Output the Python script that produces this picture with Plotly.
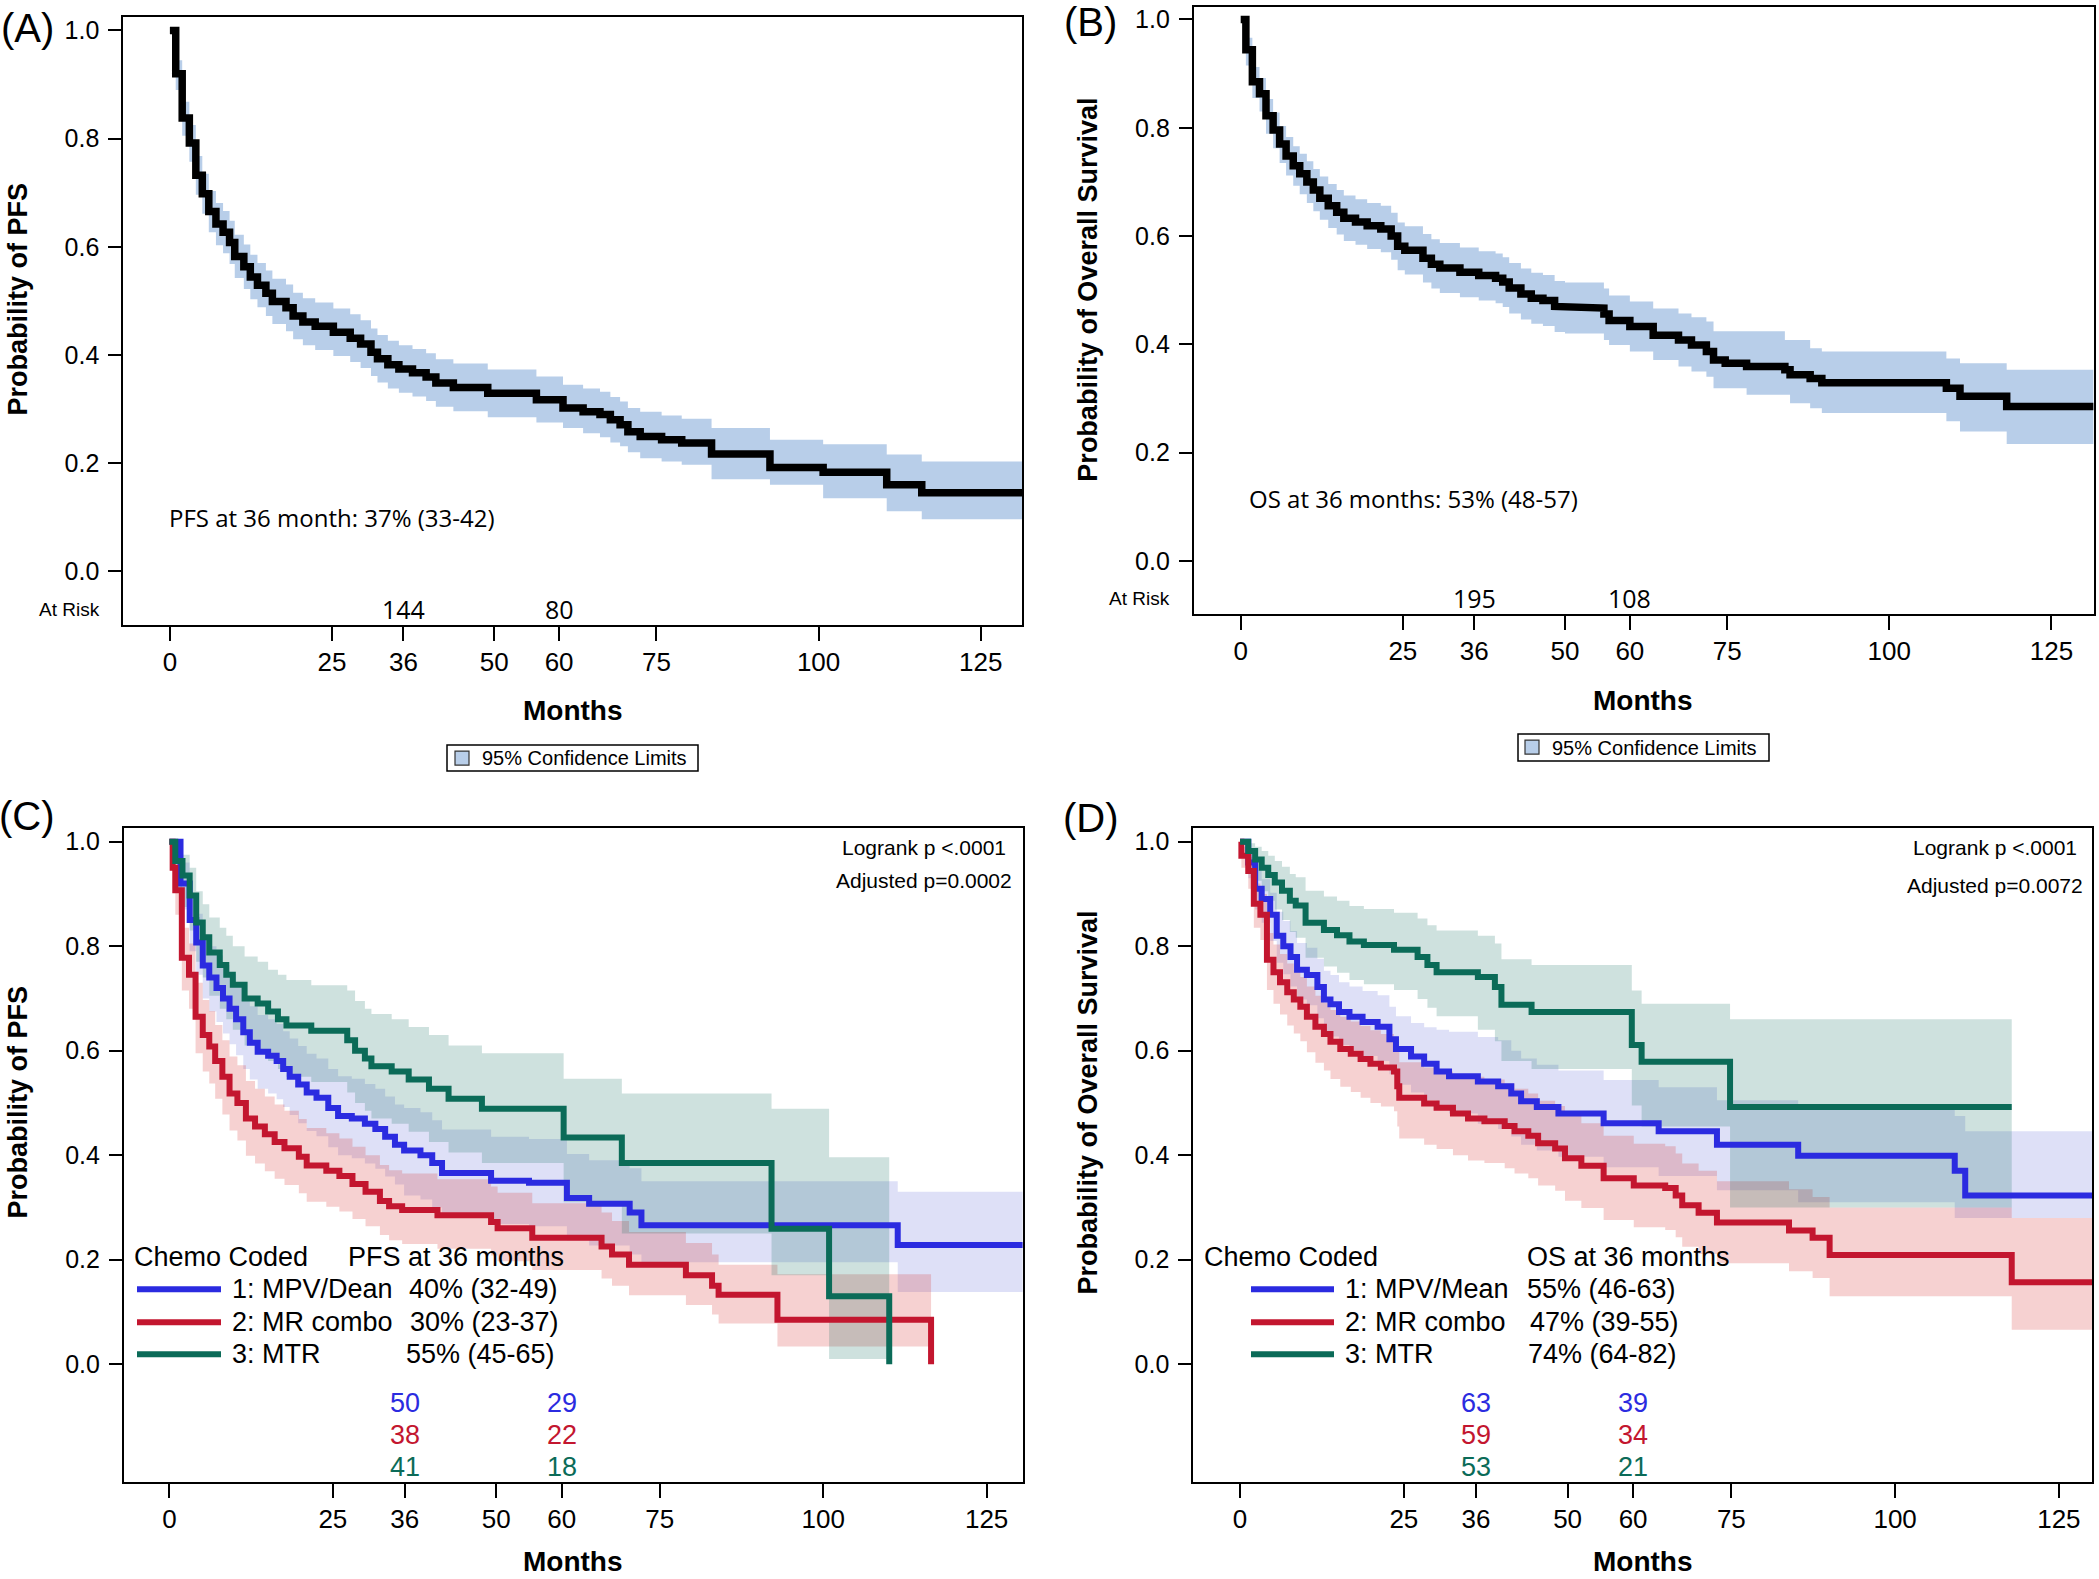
import plotly.graph_objects as go

# ---------------- DATA ----------------
# Panel A: overall PFS (months, survival, 95% CI)
A_t = [0, 0.9, 1.9, 3.0, 4.0, 5.0, 6.0, 7.1, 8.2, 9.2, 10.0, 11.4, 12.4, 13.5, 14.8, 15.8, 17.9, 19.0, 20.5, 22.4,
       25.2, 27.8, 29.4, 31.0, 32.0, 33.6, 35.3, 37.4, 39.5, 41.0, 43.7, 49.0, 56.5, 60.6, 63.7, 66.3, 67.9, 69.4, 70.6, 72.5,
       75.8, 78.9, 83.5, 92.5, 100.7, 110.5, 115.9]
A_s = [1.0, 0.92, 0.838, 0.792, 0.732, 0.698, 0.665, 0.642, 0.627, 0.608, 0.582, 0.563, 0.544, 0.529, 0.514, 0.499, 0.487, 0.472, 0.461, 0.453,
       0.442, 0.431, 0.42, 0.405, 0.393, 0.382, 0.374, 0.367, 0.359, 0.348, 0.340, 0.329, 0.317, 0.302, 0.295, 0.29, 0.28, 0.271, 0.258, 0.249,
       0.243, 0.237, 0.217, 0.192, 0.183, 0.16, 0.145]
A_lo = [1.0, 0.89, 0.805, 0.757, 0.696, 0.661, 0.627, 0.603, 0.588, 0.568, 0.542, 0.522, 0.503, 0.488, 0.472, 0.457, 0.444, 0.429, 0.418, 0.409,
        0.398, 0.387, 0.376, 0.361, 0.349, 0.338, 0.330, 0.323, 0.315, 0.304, 0.296, 0.285, 0.275, 0.265, 0.255, 0.248, 0.238, 0.231, 0.22, 0.209,
        0.203, 0.197, 0.17, 0.16, 0.135, 0.111, 0.096]
A_hi = [1.0, 0.945, 0.868, 0.825, 0.768, 0.735, 0.703, 0.681, 0.666, 0.648, 0.622, 0.604, 0.585, 0.570, 0.556, 0.541, 0.530, 0.515, 0.505, 0.497,
        0.486, 0.475, 0.464, 0.449, 0.437, 0.426, 0.418, 0.411, 0.403, 0.392, 0.384, 0.373, 0.36, 0.345, 0.338, 0.332, 0.322, 0.314, 0.302, 0.295,
        0.288, 0.282, 0.265, 0.243, 0.235, 0.216, 0.203]
A_end = 131.4

# Panel B: overall OS
B_t = [0, 0.8, 1.8, 2.9, 3.9, 5.0, 6.0, 7.0, 8.1, 9.1, 10.2, 11.2, 12.2, 13.5, 14.8, 15.9, 17.7, 19.5, 21.6, 23.2,
       24.2, 25.3, 28.1, 29.4, 30.7, 33.8, 36.7, 39.3, 40.4, 41.4, 43.2, 44.8, 46.6, 48.4, 50.0, 56.0, 56.8, 60.0, 63.6, 67.5,
       69.5, 71.8, 72.9, 74.7, 78.0, 83.9, 84.7, 87.8, 89.6, 108.8, 110.9, 118.1]
B_s = [1.0, 0.944, 0.885, 0.863, 0.822, 0.796, 0.770, 0.748, 0.730, 0.715, 0.70, 0.685, 0.670, 0.656, 0.644, 0.633, 0.626, 0.619, 0.613, 0.60,
       0.581, 0.574, 0.559, 0.548, 0.541, 0.533, 0.527, 0.522, 0.515, 0.504, 0.493, 0.485, 0.481, 0.470, 0.467, 0.456, 0.444, 0.433, 0.417, 0.408,
       0.399, 0.387, 0.371, 0.365, 0.359, 0.353, 0.344, 0.337, 0.329, 0.319, 0.304, 0.285]
B_lo = [1.0, 0.915, 0.855, 0.83, 0.789, 0.762, 0.735, 0.712, 0.693, 0.677, 0.661, 0.646, 0.63, 0.615, 0.603, 0.591, 0.584, 0.576, 0.57, 0.556,
        0.537, 0.529, 0.514, 0.503, 0.495, 0.487, 0.481, 0.476, 0.469, 0.457, 0.446, 0.438, 0.434, 0.423, 0.42, 0.408, 0.399, 0.387, 0.371, 0.359,
        0.35, 0.34, 0.319, 0.319, 0.307, 0.307, 0.291, 0.282, 0.273, 0.258, 0.239, 0.216]
B_hi = [1.0, 0.966, 0.912, 0.892, 0.853, 0.828, 0.803, 0.783, 0.766, 0.752, 0.738, 0.724, 0.71, 0.696, 0.685, 0.675, 0.668, 0.661, 0.656, 0.643,
        0.625, 0.618, 0.604, 0.594, 0.587, 0.579, 0.572, 0.568, 0.561, 0.55, 0.54, 0.532, 0.528, 0.517, 0.514, 0.503, 0.49, 0.479, 0.466, 0.457,
        0.45, 0.442, 0.424, 0.424, 0.424, 0.408, 0.408, 0.393, 0.387, 0.374, 0.365, 0.353]
B_end = 131.5

# Panel C: PFS by chemo group
C1_t = [0, 1.7, 3.1, 4.1, 5.1, 6.1, 7.2, 8.2, 9.2, 10.2, 11.3, 12.3, 13.5, 15.1, 16.4, 17.4, 18.4, 19.7, 21.0, 22.5,
        24.3, 25.8, 27.9, 29.9, 31.5, 33.0, 34.5, 35.9, 38.4, 40.2, 41.7, 49.2, 55.0, 60.8, 64.2, 70.4, 72.2, 111.4]
C1_s = [1.0, 0.92, 0.85, 0.807, 0.763, 0.74, 0.72, 0.70, 0.68, 0.66, 0.635, 0.615, 0.598, 0.59, 0.58, 0.565, 0.55, 0.535, 0.52, 0.51,
        0.49, 0.475, 0.47, 0.46, 0.45, 0.435, 0.42, 0.409, 0.40, 0.385, 0.366, 0.351, 0.347, 0.318, 0.307, 0.29, 0.266, 0.228]
C1_lo = [1.0, 0.87, 0.79, 0.745, 0.70, 0.675, 0.655, 0.633, 0.612, 0.591, 0.565, 0.545, 0.527, 0.518, 0.507, 0.492, 0.477, 0.461, 0.446, 0.436,
         0.415, 0.40, 0.394, 0.384, 0.374, 0.359, 0.344, 0.323, 0.315, 0.30, 0.282, 0.268, 0.264, 0.237, 0.227, 0.21, 0.195, 0.138]
C1_hi = [1.0, 0.96, 0.90, 0.862, 0.822, 0.80, 0.782, 0.764, 0.746, 0.727, 0.704, 0.685, 0.668, 0.66, 0.651, 0.637, 0.623, 0.609, 0.594, 0.585,
         0.565, 0.551, 0.546, 0.536, 0.527, 0.512, 0.497, 0.49, 0.482, 0.467, 0.449, 0.435, 0.431, 0.402, 0.39, 0.375, 0.35, 0.33]
C1_end = 131.0

C2_t = [0, 0.5, 0.9, 1.9, 3.0, 4.0, 5.1, 6.1, 7.0, 8.1, 9.2, 10.4, 11.7, 13.1, 14.6, 16.1, 17.6, 19.8, 21.0, 24.0,
        26.0, 28.0, 30.0, 32.2, 33.6, 35.6, 41.0, 49.2, 50.2, 55.5, 66.1, 67.7, 70.3, 79.0, 83.0, 84.0, 93.0, 116.5]
C2_s = [1.0, 0.95, 0.907, 0.778, 0.745, 0.665, 0.63, 0.608, 0.58, 0.55, 0.518, 0.50, 0.47, 0.455, 0.44, 0.425, 0.413, 0.397, 0.38, 0.37,
        0.36, 0.345, 0.33, 0.312, 0.302, 0.295, 0.285, 0.272, 0.26, 0.242, 0.225, 0.21, 0.19, 0.17, 0.15, 0.133, 0.085, 0.0]
C2_lo = [1.0, 0.91, 0.86, 0.715, 0.68, 0.595, 0.56, 0.537, 0.508, 0.478, 0.447, 0.428, 0.399, 0.384, 0.369, 0.355, 0.343, 0.327, 0.311, 0.301,
         0.292, 0.278, 0.264, 0.247, 0.237, 0.23, 0.221, 0.208, 0.197, 0.18, 0.164, 0.15, 0.132, 0.113, 0.095, 0.078, 0.034, 0.0]
C2_hi = [1.0, 0.98, 0.945, 0.835, 0.805, 0.73, 0.697, 0.676, 0.649, 0.62, 0.589, 0.572, 0.542, 0.527, 0.512, 0.497, 0.485, 0.469, 0.452, 0.442,
         0.432, 0.416, 0.40, 0.381, 0.371, 0.365, 0.354, 0.34, 0.328, 0.308, 0.29, 0.274, 0.253, 0.232, 0.21, 0.19, 0.172, 0.0]

C3_t = [0, 0.9, 2.0, 3.1, 4.1, 5.1, 6.1, 7.7, 8.7, 9.7, 11.5, 13.5, 15.1, 16.6, 17.9, 21.7, 27.2, 28.4, 29.9, 30.9,
        34.0, 36.6, 39.7, 42.7, 47.8, 60.3, 69.2, 92.1, 100.9, 110.1]
C3_s = [1.0, 0.963, 0.935, 0.897, 0.845, 0.817, 0.788, 0.764, 0.745, 0.726, 0.70, 0.69, 0.675, 0.66, 0.648, 0.638, 0.62, 0.60, 0.585, 0.57,
        0.56, 0.545, 0.527, 0.508, 0.489, 0.434, 0.385, 0.259, 0.13, 0.0]
C3_lo = [1.0, 0.91, 0.875, 0.83, 0.77, 0.74, 0.705, 0.68, 0.66, 0.64, 0.61, 0.60, 0.58, 0.565, 0.55, 0.54, 0.52, 0.50, 0.485, 0.47,
         0.46, 0.445, 0.425, 0.405, 0.385, 0.31, 0.25, 0.17, 0.01, 0.0]
C3_hi = [1.0, 0.99, 0.975, 0.95, 0.905, 0.88, 0.855, 0.835, 0.82, 0.80, 0.78, 0.77, 0.755, 0.745, 0.735, 0.725, 0.715, 0.695, 0.68, 0.67,
         0.66, 0.645, 0.63, 0.61, 0.595, 0.546, 0.518, 0.489, 0.396, 0.0]

# Panel D: OS by chemo group
D1_t = [0, 1.25, 2.3, 3.3, 4.6, 5.6, 6.6, 7.7, 8.7, 10.2, 11.8, 12.8, 13.8, 15.1, 16.7, 18.7, 21.0, 22.8, 23.8, 26.1,
        28.1, 30.0, 31.9, 36.3, 39.4, 41.4, 42.9, 45.3, 48.6, 55.5, 63.9, 72.8, 85.2, 109.1, 110.7]
D1_s = [1.0, 0.96, 0.91, 0.89, 0.86, 0.82, 0.80, 0.779, 0.755, 0.745, 0.722, 0.698, 0.689, 0.674, 0.665, 0.655, 0.646, 0.622, 0.603, 0.589,
        0.575, 0.560, 0.551, 0.541, 0.532, 0.518, 0.503, 0.492, 0.48, 0.461, 0.446, 0.42, 0.399, 0.37, 0.323]
D1_lo = [1.0, 0.93, 0.87, 0.845, 0.81, 0.768, 0.746, 0.723, 0.698, 0.687, 0.662, 0.637, 0.627, 0.611, 0.601, 0.59, 0.58, 0.555, 0.535, 0.52,
         0.505, 0.489, 0.48, 0.46, 0.45, 0.436, 0.42, 0.409, 0.397, 0.377, 0.36, 0.333, 0.31, 0.28, 0.28]
D1_hi = [1.0, 0.985, 0.945, 0.928, 0.902, 0.866, 0.848, 0.829, 0.806, 0.797, 0.776, 0.753, 0.745, 0.731, 0.723, 0.714, 0.706, 0.684, 0.666, 0.653,
         0.645, 0.64, 0.636, 0.626, 0.62, 0.60, 0.585, 0.573, 0.562, 0.544, 0.53, 0.505, 0.49, 0.475, 0.446]
D1_end = 131.0

D2_t = [0, 0.2, 1.25, 2.1, 3.1, 4.1, 5.1, 6.1, 7.2, 8.2, 9.2, 10.2, 11.5, 12.8, 13.8, 15.3, 16.9, 18.4, 19.9, 21.5,
        23.5, 24.0, 24.3, 28.1, 30.0, 32.5, 34.8, 37.3, 40.4, 41.9, 44.0, 45.5, 48.1, 49.6, 52.1, 55.5, 60.1, 64.9, 66.5, 67.5,
        70.0, 72.8, 83.8, 87.4, 90.0, 117.8]
D2_s = [1.0, 0.973, 0.944, 0.881, 0.86, 0.774, 0.75, 0.731, 0.712, 0.698, 0.684, 0.665, 0.646, 0.632, 0.617, 0.603, 0.594, 0.584, 0.575, 0.568,
        0.56, 0.532, 0.51, 0.499, 0.491, 0.48, 0.47, 0.465, 0.456, 0.446, 0.437, 0.423, 0.413, 0.394, 0.38, 0.356, 0.342, 0.337, 0.323, 0.304,
        0.29, 0.271, 0.256, 0.242, 0.209, 0.157]
D2_lo = [1.0, 0.95, 0.91, 0.835, 0.812, 0.716, 0.69, 0.669, 0.648, 0.633, 0.618, 0.597, 0.577, 0.562, 0.546, 0.531, 0.521, 0.51, 0.5, 0.493,
         0.484, 0.455, 0.432, 0.42, 0.412, 0.40, 0.39, 0.385, 0.375, 0.365, 0.356, 0.342, 0.332, 0.313, 0.299, 0.276, 0.262, 0.257, 0.243, 0.225,
         0.211, 0.193, 0.178, 0.165, 0.13, 0.066]
D2_hi = [1.0, 0.99, 0.97, 0.92, 0.9, 0.825, 0.803, 0.785, 0.767, 0.754, 0.741, 0.723, 0.705, 0.692, 0.678, 0.665, 0.656, 0.647, 0.639, 0.632,
         0.625, 0.598, 0.578, 0.568, 0.56, 0.55, 0.55, 0.545, 0.537, 0.527, 0.518, 0.504, 0.494, 0.475, 0.461, 0.437, 0.422, 0.417, 0.403, 0.384,
         0.37, 0.35, 0.335, 0.32, 0.30, 0.28]
D2_end = 131.0

D3_t = [0, 1.25, 2.3, 3.3, 4.3, 5.3, 6.4, 7.6, 8.5, 10.0, 12.8, 14.8, 16.7, 18.9, 23.5, 27.1, 28.6, 30.0, 36.3, 38.9,
        39.9, 44.5, 59.8, 61.3, 74.8]
D3_s = [1.0, 0.982, 0.966, 0.95, 0.936, 0.922, 0.906, 0.887, 0.878, 0.845, 0.831, 0.821, 0.809, 0.802, 0.793, 0.779, 0.764, 0.75, 0.741, 0.722,
        0.688, 0.674, 0.611, 0.579, 0.492]
D3_lo = [1.0, 0.95, 0.925, 0.905, 0.887, 0.87, 0.85, 0.827, 0.816, 0.778, 0.761, 0.749, 0.735, 0.727, 0.716, 0.699, 0.682, 0.666, 0.64, 0.618,
         0.58, 0.565, 0.495, 0.455, 0.30]
D3_hi = [1.0, 0.997, 0.99, 0.982, 0.973, 0.963, 0.952, 0.938, 0.932, 0.906, 0.895, 0.887, 0.877, 0.871, 0.864, 0.853, 0.84, 0.83, 0.82, 0.805,
         0.775, 0.764, 0.715, 0.69, 0.66]
D3_end = 117.8

# Tick labels / texts
X_TICKS = [0, 25, 36, 50, 60, 75, 100, 125]
Y_TICKS = [0.0, 0.2, 0.4, 0.6, 0.8, 1.0]
Y_TICKTEXT = ["0.0", "0.2", "0.4", "0.6", "0.8", "1.0"]
RISK_TIMES = [36, 60]
A_RISK = ["144", "80"]
B_RISK = ["195", "108"]
C_RISK = [["50", "29"], ["38", "22"], ["41", "18"]]
D_RISK = [["63", "39"], ["59", "34"], ["53", "21"]]
C_GROUPS = ["1: MPV/Dean", "2: MR combo", "3: MTR"]
C_PCT = ["40% (32-49)", "30% (23-37)", "55% (45-65)"]
D_GROUPS = ["1: MPV/Mean", "2: MR combo", "3: MTR"]
D_PCT = ["55% (46-63)", "47% (39-55)", "74% (64-82)"]

# ---------------- STYLE ----------------
W, H = 2099, 1579
ARIAL = "Liberation Sans, Arial, sans-serif"
CALI = "Open Sans, Noto Sans, sans-serif"
BLUE, RED, GREEN = "#2b2be0", "#c3162f", "#0b6b58"
BLUE_F, RED_F, GREEN_F = "rgba(60,70,210,0.17)", "rgba(215,45,45,0.22)", "rgba(11,107,88,0.20)"
CI_A = "#b8cee9"


def px(x):
    return x / W


def py(y):
    return 1 - y / H


def step_xy(t, v, end=None):
    xs, ys = [t[0]], [v[0]]
    for i in range(1, len(t)):
        xs += [t[i], t[i]]
        ys += [v[i - 1], v[i]]
    if end is not None and end > t[-1]:
        xs.append(end)
        ys.append(v[-1])
    return xs, ys


def band(t, lo, hi, end, color, xa, ya):
    xu, yu = step_xy(t, hi, end)
    xl, yl = step_xy(t, lo, end)
    fig.add_trace(go.Scatter(x=xu + xl[::-1], y=yu + yl[::-1], fill="toself", fillcolor=color,
                             mode="lines", line=dict(width=0), hoverinfo="skip", showlegend=False,
                             xaxis=xa, yaxis=ya))


def curve(t, s, end, color, width, xa, ya):
    xs, ys = step_xy(t, s, end)
    fig.add_trace(go.Scatter(x=xs, y=ys, mode="lines", line=dict(color=color, width=width),
                             showlegend=False, xaxis=xa, yaxis=ya))


fig = go.Figure()

# Panel A
band(A_t, A_lo, A_hi, A_end, CI_A, "x", "y")
curve(A_t, A_s, A_end, "black", 7.5, "x", "y")
# Panel B
band(B_t, B_lo, B_hi, B_end, CI_A, "x2", "y2")
curve(B_t, B_s, B_end, "black", 7.5, "x2", "y2")
# Panel C
band(C1_t, C1_lo, C1_hi, C1_end, BLUE_F, "x3", "y3")
band(C2_t, C2_lo, C2_hi, None, RED_F, "x3", "y3")
band(C3_t, C3_lo, C3_hi, None, GREEN_F, "x3", "y3")
curve(C1_t, C1_s, C1_end, BLUE, 6, "x3", "y3")
curve(C2_t, C2_s, None, RED, 6, "x3", "y3")
curve(C3_t, C3_s, None, GREEN, 6, "x3", "y3")
# Panel D
band(D1_t, D1_lo, D1_hi, D1_end, BLUE_F, "x4", "y4")
band(D2_t, D2_lo, D2_hi, D2_end, RED_F, "x4", "y4")
band(D3_t, D3_lo, D3_hi, D3_end, GREEN_F, "x4", "y4")
curve(D1_t, D1_s, D1_end, BLUE, 6, "x4", "y4")
curve(D2_t, D2_s, D2_end, RED, 6, "x4", "y4")
curve(D3_t, D3_s, D3_end, GREEN, 6, "x4", "y4")


def xax(domain, rng, anchor):
    return dict(domain=domain, range=rng, anchor=anchor, tickmode="array", tickvals=X_TICKS,
                ticks="outside", ticklen=14, tickwidth=2, tickcolor="black", showline=True, linecolor="black",
                linewidth=2, mirror=True, showgrid=False, zeroline=False, ticklabelstandoff=-1,
                tickfont=dict(family=ARIAL, size=26, color="black"))


def yax(domain, rng, anchor):
    return dict(domain=domain, range=rng, anchor=anchor, tickmode="array", tickvals=Y_TICKS, ticktext=Y_TICKTEXT,
                ticks="outside", ticklen=13, tickwidth=2, tickcolor="black", showline=True, linecolor="black",
                linewidth=2, mirror=True, showgrid=False, zeroline=False, ticklabelstandoff=4,
                tickfont=dict(family=ARIAL, size=25, color="black"))


fig.update_layout(
    width=W, height=H, margin=dict(l=0, r=0, t=0, b=0),
    paper_bgcolor="white", plot_bgcolor="white", showlegend=False,
    xaxis=xax([px(123.3), px(1022.3)], [-7.18, 131.4], "y"),
    yaxis=yax([py(623.3), py(15)], [-0.0984, 1.0248], "x"),
    xaxis2=xax([px(1193.8), px(2093.6)], [-7.23, 131.5], "y2"),
    yaxis2=yax([py(612.8), py(5)], [-0.098, 1.023], "x2"),
    xaxis3=xax([px(123.9), px(1022.6)], [-6.96, 130.5], "y3"),
    yaxis3=yax([py(1481.6), py(827.3)], [-0.225, 1.0256], "x3"),
    xaxis4=xax([px(1193.3), px(2092.3)], [-7.14, 130.1], "y4"),
    yaxis4=yax([py(1481.7), py(827.3)], [-0.225, 1.0256], "x4"),
)

anns = []
shapes = []


def T(text, x, y, size, family=ARIAL, xanchor="center", yanchor="middle", color="black", angle=0,
      xref="paper", yref="paper"):
    if xref == "paper":
        x = px(x)
    if yref == "paper":
        y = py(y)
    anns.append(dict(text=text, x=x, y=y, xref=xref, yref=yref, xanchor=xanchor, yanchor=yanchor,
                     showarrow=False, textangle=angle, font=dict(family=family, size=size, color=color)))


# panel letters
T("(A)", 27, 26, 40)
T("(B)", 1090, 20, 40)
T("(C)", 27, 815, 40)
T("(D)", 1091, 817, 40)

# axis titles
T("<b>Probability of PFS</b>", 18, 298, 27, angle=-90)
T("<b>Probability of Overall Survival</b>", 1088, 288, 27, angle=-90)
T("<b>Probability of PFS</b>", 18, 1102, 27, angle=-90)
T("<b>Probability of Overall Survival</b>", 1088, 1102, 27, angle=-90)
T("<b>Months</b>", 573, 709, 28)
T("<b>Months</b>", 1643, 699, 28)
T("<b>Months</b>", 573, 1561, 28)
T("<b>Months</b>", 1643, 1561, 28)

# summary texts A/B
T("PFS at 36 month: 37% (33-42)", 167, 516, 24, family=CALI, xanchor="left")
T("OS at 36 months: 53% (48-57)", 1247, 497, 24, family=CALI, xanchor="left")

# at risk A/B
T("At Risk", 102, 608, 19, xanchor="right")
T("At Risk", 1172, 597, 19, xanchor="right")
for tm, lab in zip(RISK_TIMES, A_RISK):
    T(lab, tm, -0.070, 25, family=CALI, xref="x", yref="y")
for tm, lab in zip(RISK_TIMES, B_RISK):
    T(lab, tm, -0.069, 25, family=CALI, xref="x2", yref="y2")

# confidence legend boxes A/B
for (bx0, bx1, by0, by1, sx0, sy0, tx) in [(447, 698, 744, 770, 455, 750, 480),
                                          (1518, 1769, 733, 760, 1525, 739, 1550)]:
    shapes.append(dict(type="rect", xref="paper", yref="paper", x0=px(bx0), x1=px(bx1), y0=py(by1), y1=py(by0),
                       line=dict(color="black", width=1.5), fillcolor="white"))
    shapes.append(dict(type="rect", xref="paper", yref="paper", x0=px(sx0), x1=px(sx0 + 14), y0=py(sy0 + 14),
                       y1=py(sy0), line=dict(color="#333333", width=1.2), fillcolor=CI_A))
    T("95% Confidence Limits", tx, (by0 + by1) / 2, 20, xanchor="left")

# logrank texts
T("Logrank p <.0001", 1008, 847, 21, xanchor="right")
T("Adjusted p=0.0002", 1014, 880, 21, xanchor="right")
T("Logrank p <.0001", 2079, 847, 21, xanchor="right")
T("Adjusted p=0.0072", 2085, 885, 21, xanchor="right")

# group legends C/D
COLS = [BLUE, RED, GREEN]
LEG_Y = [1289, 1322, 1354]
T("Chemo Coded", 132, 1257, 27, xanchor="left")
T("PFS at 36 months", 346, 1257, 27, xanchor="left")
T("Chemo Coded", 1202, 1257, 27, xanchor="left")
T("OS at 36 months", 1525, 1257, 27, xanchor="left")
C_PCT_X = [407, 408, 404]
D_PCT_X = [1525, 1528, 1526]
for i in range(3):
    shapes.append(dict(type="line", xref="paper", yref="paper", x0=px(137), x1=px(221), y0=py(LEG_Y[i]),
                       y1=py(LEG_Y[i]), line=dict(color=COLS[i], width=6)))
    T(C_GROUPS[i], 230, LEG_Y[i], 27, xanchor="left")
    T(C_PCT[i], C_PCT_X[i], LEG_Y[i], 27, xanchor="left")
    shapes.append(dict(type="line", xref="paper", yref="paper", x0=px(1251), x1=px(1334), y0=py(LEG_Y[i]),
                       y1=py(LEG_Y[i]), line=dict(color=COLS[i], width=6)))
    T(D_GROUPS[i], 1343, LEG_Y[i], 27, xanchor="left")
    T(D_PCT[i], D_PCT_X[i], LEG_Y[i], 27, xanchor="left")

# at risk C/D
RISK_ROWS = [-0.074, -0.136, -0.1965]
for i in range(3):
    T(str(i + 1), -11.3, RISK_ROWS[i], 18, color=COLS[i], xref="x3", yref="y3")
    T(str(i + 1), -11.2, RISK_ROWS[i], 18, color=COLS[i], xref="x4", yref="y4")
    for j, tm in enumerate(RISK_TIMES):
        T(C_RISK[i][j], tm, RISK_ROWS[i], 27, color=COLS[i], xref="x3", yref="y3")
        T(D_RISK[i][j], tm, RISK_ROWS[i], 27, color=COLS[i], xref="x4", yref="y4")

fig.update_layout(annotations=anns, shapes=shapes)
fig.write_html("out.html", config={"displayModeBar": False},
               post_script="document.body.style.margin='0';document.body.style.overflow='hidden';")
